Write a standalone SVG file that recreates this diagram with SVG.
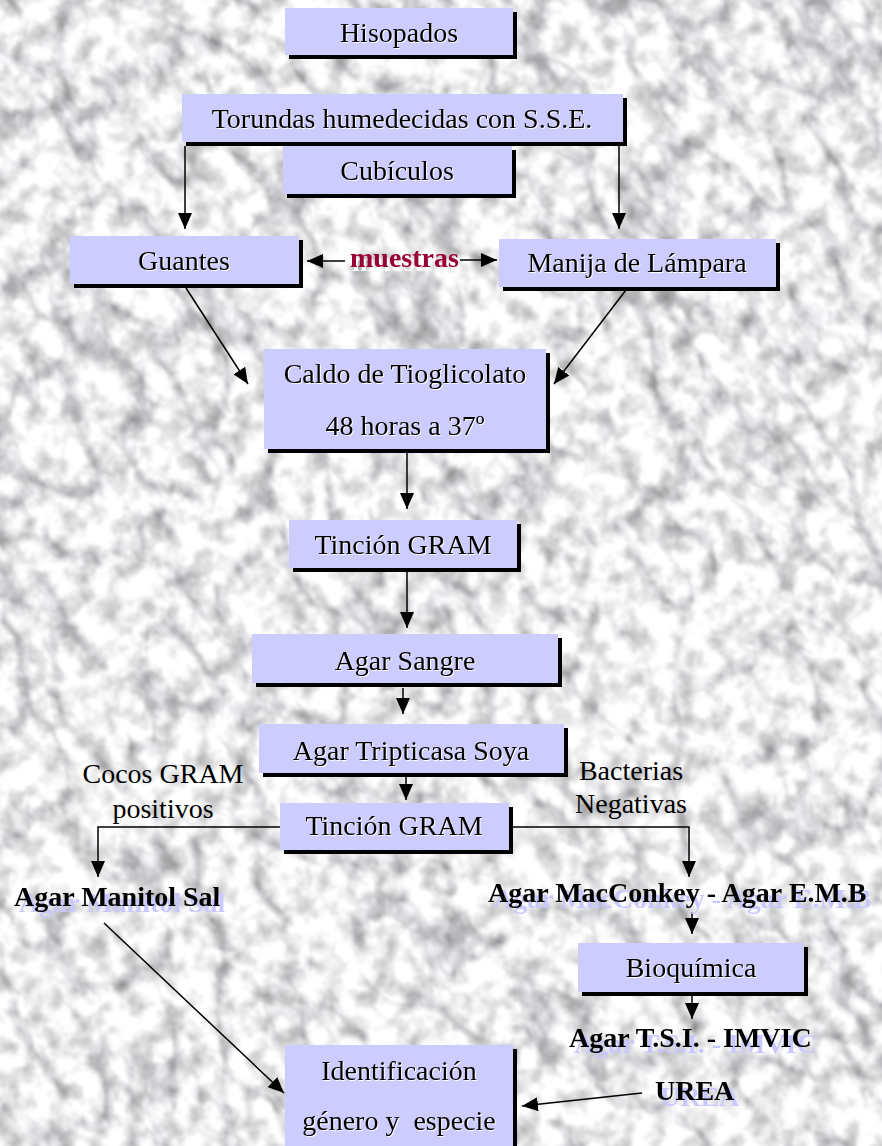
<svg xmlns="http://www.w3.org/2000/svg" width="882" height="1146" viewBox="0 0 882 1146">
<defs>
<filter id="marble" x="0" y="0" width="100%" height="100%" color-interpolation-filters="sRGB">
<feTurbulence type="turbulence" baseFrequency="0.018 0.011" numOctaves="4" seed="11" result="t1"/>
<feColorMatrix in="t1" type="matrix" values="1.0 0 0 0 0.72  1.0 0 0 0 0.72  1.0 0 0 0 0.73  0 0 0 0 1" result="c1"/>
<feTurbulence type="fractalNoise" baseFrequency="0.045" numOctaves="3" seed="4" result="t2"/>
<feColorMatrix in="t2" type="matrix" values="0.65 0 0 0 0.63  0.65 0 0 0 0.63  0.65 0 0 0 0.63  0 0 0 0 1" result="c2"/>
<feComposite in="c1" in2="c2" operator="arithmetic" k1="1" k2="0" k3="0" k4="0" result="m"/>
<feGaussianBlur in="m" stdDeviation="0.8"/>
</filter>
<filter id="blueSh" x="-10%" y="-30%" width="130%" height="180%" color-interpolation-filters="sRGB">
<feFlood flood-color="#c8c8ff"/><feComposite in2="SourceAlpha" operator="in"/><feOffset dx="5" dy="6" result="s"/>
<feMerge><feMergeNode in="s"/><feMergeNode in="SourceGraphic"/></feMerge>
</filter>
<filter id="whiteSh" x="-10%" y="-30%" width="130%" height="180%" color-interpolation-filters="sRGB">
<feFlood flood-color="#ffffff"/><feComposite in2="SourceAlpha" operator="in"/><feOffset dx="1" dy="1" result="s"/>
<feMerge><feMergeNode in="s"/><feMergeNode in="SourceGraphic"/></feMerge>
</filter>
<filter id="whiteSh2" x="-10%" y="-30%" width="130%" height="180%" color-interpolation-filters="sRGB">
<feFlood flood-color="#ffffff"/><feComposite in2="SourceAlpha" operator="in"/><feOffset dx="2" dy="4" result="s"/>
<feMerge><feMergeNode in="s"/><feMergeNode in="SourceGraphic"/></feMerge>
</filter>
<marker id="ah" markerUnits="userSpaceOnUse" markerWidth="16" markerHeight="14" refX="16" refY="7" orient="auto">
<path d="M0,0 L16,7 L0,14 z" fill="#000"/>
</marker>
<style>
.box{fill:#ccccff}
.sh{fill:#000}
.t{font-family:"Liberation Serif","Times New Roman",serif;font-size:28px;fill:#000;text-anchor:middle;filter:url(#whiteSh);white-space:pre}
.f{font-family:"Liberation Serif","Times New Roman",serif;font-size:28px;fill:#000}
.b{font-family:"Liberation Serif","Times New Roman",serif;font-size:28px;font-weight:bold;fill:#000;filter:url(#blueSh)}
.c{fill:none;stroke:#000;stroke-width:1.5;marker-end:url(#ah)}
</style>
</defs>
<g id="background" transform="rotate(-35 441 573)">
<rect x="-400" y="-300" width="1700" height="1750" fill="#e0e0e0" filter="url(#marble)"/>
</g>

<g id="connectors">
<path class="c" d="M185,146 V229"/>
<path class="c" d="M619,146 V229"/>
<path class="c" d="M345,261 H307"/>
<path class="c" d="M460,260 H497"/>
<path class="c" d="M186,288 L248,384"/>
<path class="c" d="M626,290 L554,384"/>
<path class="c" d="M407,453 V509"/>
<path class="c" d="M407,572 V628"/>
<path class="c" d="M403,688 V714"/>
<path class="c" d="M406,777 V800"/>
<path class="c" d="M280,827 H98 V877"/>
<path class="c" d="M506,827 H689 V877"/>
<path class="c" d="M104,923 L284,1093"/>
<path class="c" d="M692,912 V934"/>
<path class="c" d="M692,996 V1019"/>
<path class="c" d="M642,1093 L522,1106"/>
</g>

<g id="hisopados">
<rect class="sh" x="289" y="12" width="228" height="47"/>
<rect class="box" x="285" y="8" width="228" height="47"/>
<text class="t" x="399" y="42">Hisopados</text>
</g>
<g id="torundas">
<rect class="sh" x="186" y="98" width="441" height="48"/>
<rect class="box" x="182" y="94" width="441" height="48"/>
<text class="t" x="402" y="128">Torundas humedecidas con S.S.E.</text>
</g>
<g id="cubiculos">
<rect class="sh" x="287" y="150" width="229" height="48"/>
<rect class="box" x="283" y="146" width="229" height="48"/>
<text class="t" x="397" y="180">Cubículos</text>
</g>
<g id="guantes">
<rect class="sh" x="74" y="240" width="229" height="48"/>
<rect class="box" x="70" y="236" width="229" height="48"/>
<text class="t" x="184" y="270">Guantes</text>
</g>
<g id="muestras">
<text x="350" y="267" font-family="Liberation Serif, serif" font-size="28" font-weight="bold" fill="#990033" filter="url(#whiteSh2)">muestras</text>
</g>
<g id="manija">
<rect class="sh" x="503" y="243" width="277" height="48"/>
<rect class="box" x="499" y="239" width="277" height="48"/>
<text class="t" x="637" y="272">Manija de Lámpara</text>
</g>
<g id="caldo">
<rect class="sh" x="268" y="353" width="282" height="100"/>
<rect class="box" x="264" y="349" width="282" height="100"/>
<text class="t" x="405" y="383">Caldo de Tioglicolato</text>
<text class="t" x="405" y="435">48 horas a 37º</text>
</g>
<g id="tincion1">
<rect class="sh" x="293" y="524" width="228" height="48"/>
<rect class="box" x="289" y="520" width="228" height="48"/>
<text class="t" x="403" y="554">Tinción GRAM</text>
</g>
<g id="agarSangre">
<rect class="sh" x="256" y="638" width="306" height="49"/>
<rect class="box" x="252" y="634" width="306" height="49"/>
<text class="t" x="405" y="670">Agar Sangre</text>
</g>
<g id="tripticasa">
<rect class="sh" x="263" y="728" width="305" height="49"/>
<rect class="box" x="259" y="724" width="305" height="49"/>
<text class="t" x="411" y="760">Agar Tripticasa Soya</text>
</g>
<g id="tincion2">
<rect class="sh" x="284" y="807" width="229" height="47"/>
<rect class="box" x="280" y="803" width="229" height="47"/>
<text class="t" x="394" y="835">Tinción GRAM</text>
</g>
<g id="cocos">
<text class="f" x="163" y="783" text-anchor="middle">Cocos GRAM</text>
<text class="f" x="163" y="818" text-anchor="middle">positivos</text>
</g>
<g id="bacterias">
<text class="f" x="631" y="780" text-anchor="middle">Bacterias</text>
<text class="f" x="631" y="813" text-anchor="middle">Negativas</text>
</g>
<g id="manitol">
<text class="b" x="14" y="906">Agar Manitol Sal</text>
</g>
<g id="macconkey">
<text class="b" x="488" y="902">Agar MacConkey - Agar E.M.B</text>
</g>
<g id="bioquimica">
<rect class="sh" x="582" y="947" width="226" height="49"/>
<rect class="box" x="578" y="943" width="226" height="49"/>
<text class="t" x="691" y="977">Bioquímica</text>
</g>
<g id="tsi">
<text class="b" x="569" y="1047">Agar T.S.I. - IMVIC</text>
</g>
<g id="urea">
<text class="b" x="655" y="1100">UREA</text>
</g>
<g id="identificacion">
<rect class="sh" x="289" y="1049" width="228" height="110"/>
<rect class="box" x="285" y="1045" width="228" height="110"/>
<text class="t" x="399" y="1080">Identificación</text>
<text class="t" x="399" y="1130">género y  especie</text>
</g>
</svg>
